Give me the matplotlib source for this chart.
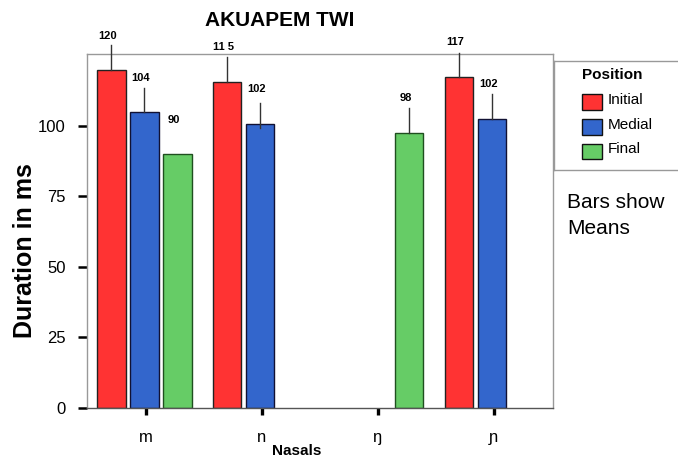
import numpy as np
import matplotlib
matplotlib.use('Agg')
import matplotlib.pyplot as plt
from matplotlib.patches import Rectangle
from matplotlib.lines import Line2D

plt.rcParams['font.family'] = ['Liberation Sans', 'DejaVu Sans']

# data
nasals = ['m', 'n', 'ŋ', 'ɲ']
positions = ['Initial', 'Medial', 'Final']
colors = ['#ff3333', '#3366cc', '#66cc66']
edges = ['#222222', '#111133', '#1f4f1f']

initial = [120, 115.5, np.nan, 117.3]
medial = [104.8, 100.8, np.nan, 102.6]
final = [90, np.nan, 97.6, np.nan]

# whisker (low, high) per bar, nan where no whisker shown
initial_err = [(120, 128.7), (115.5, 124.4), (np.nan, np.nan), (117.3, 125.8)]
medial_err = [(104.8, 113.4), (99.2, 108), (np.nan, np.nan), (102.6, 111.3)]
final_err = [(np.nan, np.nan), (np.nan, np.nan), (97.6, 106.5), (np.nan, np.nan)]

# value labels: text and vertical position
initial_lbl = ['120', '11 5', '', '117']
initial_lbl_y = [132, 128, np.nan, 129.7]
medial_lbl = ['104', '102', '', '102']
medial_lbl_y = [117, 113, np.nan, 114.8]
final_lbl = ['90', '', '98', '']
final_lbl_y = [102, np.nan, 110, np.nan]

series = [
    (initial, initial_err, initial_lbl, initial_lbl_y),
    (medial, medial_err, medial_lbl, medial_lbl_y),
    (final, final_err, final_lbl, final_lbl_y),
]

W, H = 678.0, 458.0
def fx(px):
    return px / W
def fy(py):
    return 1 - py / H

fig = plt.figure(figsize=(6.78, 4.58), dpi=100)
ax = fig.add_axes([0.1283, 0.1092, 0.6873, 0.7729])

x = np.arange(len(nasals))
width = 0.245
step = 0.285

for i, (vals, errs, lbls, lbl_y) in enumerate(series):
    off = (i - 1) * step - 0.015
    for j in range(len(nasals)):
        if np.isnan(vals[j]):
            continue
        ax.bar(x[j] + off, vals[j], width, color=colors[i], edgecolor=edges[i],
               linewidth=1.0, zorder=2)
        lo, hi = errs[j]
        if not np.isnan(lo):
            ax.plot([x[j] + off, x[j] + off], [lo, hi], color='#333333', lw=1.0,
                    clip_on=False, zorder=3)
        if lbls[j]:
            ax.text(x[j] + off - 0.03, lbl_y[j], lbls[j], ha='center', va='center',
                    fontsize=8, fontweight='bold', clip_on=False)

ax.set_xlim(-0.51, 3.51)
ax.set_ylim(0, 125.5)
ax.set_yticks([0, 25, 50, 75, 100])
ax.set_xticks(x)
ax.set_xticklabels(nasals)

ax.tick_params(axis='y', direction='out', length=6.5, width=1.8, color='black',
               labelsize=12, pad=9)
ax.tick_params(axis='x', direction='out', length=5, width=2.4, color='black',
               labelsize=12, pad=11)

for s in ['top', 'right', 'left']:
    ax.spines[s].set_color('#999999')
    ax.spines[s].set_linewidth(1.0)
ax.spines['bottom'].set_color('#555555')
ax.spines['bottom'].set_linewidth(1.0)

fig.text(fx(25), fy(251), 'Duration in ms', rotation=90, ha='center', va='center',
         fontsize=18, fontweight='bold')
fig.text(fx(297), fy(451), 'Nasals', ha='center', va='center', fontsize=11,
         fontweight='bold')
fig.text(fx(280), fy(20), 'AKUAPEM TWI', ha='center', va='center',
         fontsize=15, fontweight='bold')

# legend box to the right of the plot
fig.add_artist(Line2D([fx(554), fx(554)], [fy(60.7), fy(170)], color='#999999', lw=1.0))
fig.add_artist(Line2D([fx(554), 1.0], [fy(60.7), fy(60.7)], color='#999999', lw=1.0))
fig.add_artist(Line2D([fx(554), 1.0], [fy(170), fy(170)], color='#999999', lw=1.0))
fig.text(fx(582), fy(75), 'Position', ha='left', va='center', fontsize=11,
         fontweight='bold')
for i, (name, ypx) in enumerate(zip(positions, [102, 127, 151])):
    fig.add_artist(Rectangle((fx(582), fy(ypx + 7.5)), 20 / W, 15 / H,
                             facecolor=colors[i], edgecolor='#111111', lw=1.0,
                             transform=fig.transFigure))
    fig.text(fx(608), fy(ypx - 2), name, ha='left', va='center', fontsize=11)

fig.text(fx(567), fy(203), 'Bars show', ha='left', va='center', fontsize=15)
fig.text(fx(567), fy(228), 'Means', ha='left', va='center', fontsize=15)

fig.savefig('out.png', dpi=100)
